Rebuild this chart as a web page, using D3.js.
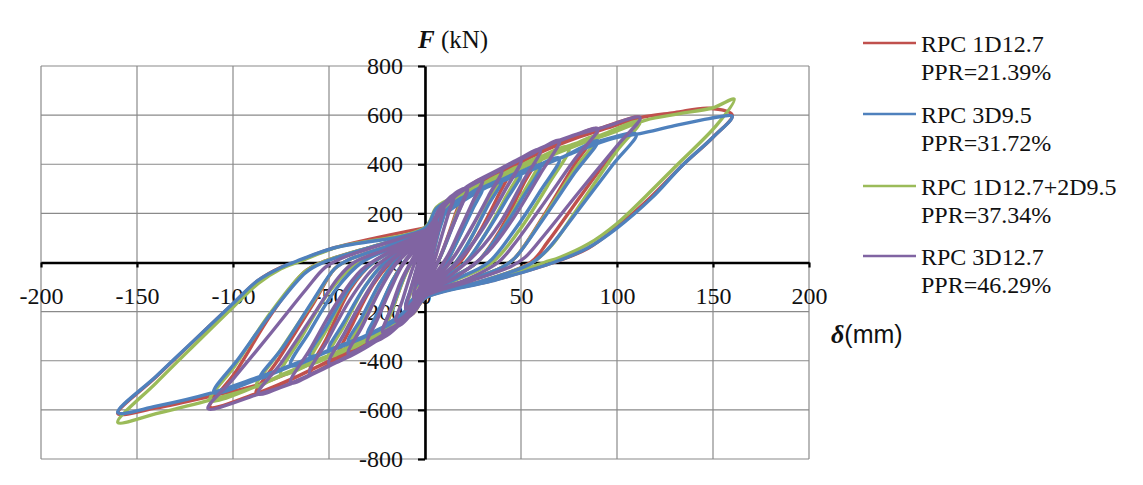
<!DOCTYPE html>
<html>
<head>
<meta charset="utf-8">
<script src="https://cdn.jsdelivr.net/npm/d3@7"></script>
<style>
  html, body { margin: 0; padding: 0; background: #fff; }
  svg { display: block; }
</style>
</head>
<body>
<svg id="chart" width="1143" height="485"></svg>
<script>
// ---------------- DATA ----------------
const seriesNames = ["RPC 1D12.7", "RPC 3D9.5", "RPC 1D12.7+2D9.5", "RPC 3D12.7"];
const seriesPPR = ["PPR=21.39%", "PPR=31.72%", "PPR=37.34%", "PPR=46.29%"];
const xTicks = [-200, -150, -100, -50, 0, 50, 100, 150, 200];
const yTicks = [-800, -600, -400, -200, 0, 200, 400, 600, 800];

// [displacement δ (mm), force F (kN)]
const redLoops = [
  [0,0],[2,55],[5,125],[3,60],[1.5,0],[0,-25],[-2,-60],[-5,-105],[-3,-45],[-1.5,0],[0,25],
  [2,90],[5,160],[10,220],[7,135],[4,35],[2,-20],[0,-55],[-2,-100],[-5,-145],[-10,-185],[-7,-105],[-4,-20],[-2,20],[0,55],
  [3,125],[7,190],[12,245],[20,295],[16,200],[10,65],[6,-10],[3,-50],[0,-80],[-3,-135],[-8,-190],[-14,-240],[-20,-270],[-16,-170],[-10,-45],[-6,15],[-3,50],[0,80],
  [3,132],[8,198],[15,262],[22,305],[30,340],[25,245],[17,95],[11,0],[5,-55],[0,-95],[-4,-158],[-10,-212],[-20,-275],[-30,-320],[-25,-220],[-17,-75],[-11,0],[-5,55],[0,95],
  [3,138],[9,205],[20,290],[32,345],[45,395],[38,270],[27,105],[18,0],[9,-60],[0,-108],[-4,-170],[-11,-225],[-24,-290],[-36,-345],[-45,-380],[-38,-255],[-27,-90],[-18,0],[-9,60],[0,103],
  [4,145],[10,212],[22,300],[40,375],[60,455],[51,315],[39,130],[27,0],[13,-65],[0,-118],[-5,-185],[-13,-240],[-28,-320],[-45,-395],[-60,-448],[-51,-305],[-39,-110],[-27,0],[-13,62],[0,112],
  [5,152],[12,220],[26,310],[50,415],[72,495],[90,544],[78,400],[61,180],[47,20],[40,-20],[20,-78],[0,-130],[-6,-195],[-15,-250],[-32,-330],[-55,-420],[-75,-495],[-88,-534],[-76,-390],[-58,-165],[-47,-25],[-40,10],[-20,65],[0,122],
  [5,158],[14,228],[30,320],[55,430],[75,500],[92,548],[112,590],[100,470],[81,270],[64,85],[55,0],[28,-80],[0,-137],[-6,-200],[-16,-252],[-34,-335],[-60,-440],[-88,-534],[-112,-588],[-99,-450],[-80,-210],[-63,-40],[-54,0],[-26,68],[0,128],
  [5,165],[15,235],[32,325],[58,440],[80,510],[98,555],[112,590],[130,610],[148,628],[160,600],[150,510],[134,395],[117,262],[100,145],[85,58],[67,0],[35,-74],[0,-145],[-6,-205],[-18,-255],[-40,-345],[-65,-430],[-88,-500],[-112,-545],[-140,-592],[-160,-615],[-140,-465],[-120,-316],[-100,-168],[-87,-74],[-75,-20],[-66,5],[-48,58],[0,141]
];

const blueLoops = [
  [0,0],[2,50],[5,110],[3,50],[1.5,0],[0,-25],[-2,-60],[-5,-100],[-3,-45],[-1.5,0],[0,25],
  [2,80],[5,140],[10,200],[7,120],[4,30],[2,-20],[0,-55],[-2,-95],[-5,-135],[-10,-175],[-7,-100],[-4,-20],[-2,20],[0,55],
  [3,115],[7,170],[12,220],[20,265],[16,180],[10,60],[6,-10],[3,-50],[0,-80],[-3,-130],[-8,-180],[-14,-220],[-20,-245],[-16,-160],[-10,-40],[-6,15],[-3,50],[0,80],
  [3,125],[8,180],[15,240],[22,275],[30,305],[25,220],[17,90],[11,0],[5,-55],[0,-95],[-4,-150],[-10,-200],[-20,-255],[-30,-295],[-25,-210],[-17,-75],[-11,0],[-5,55],[0,95],
  [3,130],[9,190],[20,265],[30,305],[40,335],[33,235],[24,100],[16,0],[8,-60],[0,-105],[-4,-160],[-11,-210],[-22,-265],[-40,-325],[-33,-225],[-24,-90],[-16,0],[-8,60],[0,100],
  [4,140],[10,200],[22,272],[36,322],[50,365],[42,250],[31,110],[21,0],[10,-62],[0,-110],[-5,-170],[-12,-218],[-25,-280],[-38,-320],[-50,-355],[-42,-240],[-31,-95],[-21,0],[-10,60],[0,105],
  [4,145],[11,205],[24,280],[42,340],[60,395],[51,265],[39,120],[27,0],[13,-65],[0,-118],[-5,-178],[-13,-225],[-28,-290],[-45,-340],[-60,-380],[-51,-255],[-39,-100],[-27,0],[-13,62],[0,112],
  [5,150],[12,210],[26,285],[48,355],[70,425],[60,290],[46,125],[33,0],[16,-68],[0,-123],[-6,-185],[-14,-230],[-30,-298],[-50,-360],[-70,-420],[-60,-280],[-46,-105],[-33,0],[-16,63],[0,117],
  [5,155],[13,215],[28,292],[52,368],[72,430],[90,495],[78,365],[61,170],[47,20],[40,-20],[20,-78],[0,-130],[-6,-190],[-15,-235],[-32,-305],[-55,-375],[-72,-425],[-86,-470],[-74,-345],[-58,-150],[-47,-25],[-40,10],[-20,65],[0,122],
  [5,160],[14,220],[30,300],[55,375],[75,440],[92,497],[110,522],[98,400],[80,215],[64,55],[55,-5],[28,-80],[0,-135],[-6,-195],[-16,-240],[-34,-312],[-60,-390],[-86,-472],[-110,-530],[-97,-390],[-78,-185],[-62,-40],[-53,0],[-26,68],[0,127],
  [5,165],[15,225],[32,305],[58,385],[80,455],[98,505],[112,525],[130,557],[148,586],[160,595],[150,510],[134,395],[118,262],[100,140],[85,60],[67,0],[35,-75],[0,-145],[-6,-200],[-18,-248],[-40,-330],[-65,-405],[-88,-470],[-112,-533],[-140,-585],[-160,-611],[-140,-463],[-120,-315],[-100,-167],[-87,-73],[-75,-20],[-67,5],[-48,58],[0,140],[6,220],[15,260]
];

const greenLoops = [
  [0,0],[2,55],[5,120],[3,55],[1.5,0],[0,-25],[-2,-60],[-5,-105],[-3,-45],[-1.5,0],[0,25],
  [2,85],[5,150],[10,210],[7,125],[4,30],[2,-20],[0,-55],[-2,-100],[-5,-145],[-10,-190],[-7,-110],[-4,-20],[-2,20],[0,55],
  [3,120],[7,178],[12,230],[20,280],[16,190],[10,60],[6,-10],[3,-50],[0,-80],[-3,-135],[-8,-190],[-14,-235],[-20,-265],[-16,-170],[-10,-45],[-6,15],[-3,50],[0,80],
  [3,128],[8,188],[15,250],[22,290],[30,320],[25,230],[17,90],[11,0],[5,-55],[0,-95],[-4,-155],[-10,-210],[-20,-268],[-30,-315],[-25,-220],[-17,-75],[-11,0],[-5,55],[0,95],
  [3,133],[9,196],[20,275],[30,320],[40,355],[33,245],[24,100],[16,0],[8,-60],[0,-105],[-4,-165],[-11,-220],[-22,-278],[-40,-350],[-33,-240],[-24,-90],[-16,0],[-8,60],[0,100],
  [4,142],[10,205],[22,283],[36,340],[50,390],[42,265],[31,110],[21,0],[10,-62],[0,-110],[-5,-175],[-12,-228],[-25,-292],[-38,-345],[-50,-380],[-42,-255],[-31,-95],[-21,0],[-10,60],[0,105],
  [4,148],[11,210],[24,290],[42,360],[60,425],[51,280],[39,120],[27,0],[13,-65],[0,-118],[-5,-183],[-13,-235],[-28,-305],[-45,-365],[-60,-410],[-51,-270],[-39,-100],[-27,0],[-13,62],[0,112],
  [5,152],[12,215],[26,297],[50,390],[75,470],[64,315],[49,130],[35,0],[17,-68],[0,-123],[-6,-190],[-14,-240],[-30,-315],[-52,-385],[-75,-455],[-64,-300],[-49,-110],[-35,0],[-17,63],[0,117],
  [5,157],[13,220],[28,303],[55,400],[75,472],[90,515],[78,380],[61,175],[47,20],[40,-20],[20,-78],[0,-130],[-6,-195],[-15,-243],[-32,-320],[-55,-395],[-75,-458],[-88,-505],[-76,-365],[-58,-155],[-47,-25],[-40,10],[-20,65],[0,122],
  [5,162],[14,225],[30,310],[55,405],[75,475],[92,520],[112,575],[100,455],[82,250],[66,70],[56,0],[28,-80],[0,-135],[-6,-200],[-16,-248],[-34,-325],[-60,-410],[-88,-505],[-112,-562],[-99,-420],[-80,-200],[-63,-40],[-54,0],[-26,68],[0,127],
  [5,168],[15,230],[32,315],[58,410],[80,480],[98,530],[115,580],[132,605],[150,630],[161,665],[152,560],[131,395],[115,270],[100,159],[85,75],[70,20],[62,0],[35,-72],[0,-142],[-6,-205],[-18,-255],[-40,-345],[-65,-425],[-88,-505],[-112,-560],[-140,-615],[-160,-651],[-140,-490],[-120,-335],[-100,-182],[-87,-86],[-75,-25],[-65,5],[-46,62],[0,143],[6,225],[15,265]
];

const purpleLoops = [
  [0,0],[1.5,55],[3,100],[2,50],[0.5,0],[0,-15],[-1.5,-50],[-3,-85],[-2,-40],[-0.5,0],[0,15],
  [2,75],[4,130],[6,170],[4.5,100],[2,15],[1,-20],[0,-40],[-2,-90],[-4,-120],[-6,-145],[-4.5,-80],[-2,-10],[-1,15],[0,35],
  [2,80],[4,135],[6,168],[4.3,95],[2,12],[0.8,-22],[0,-45],[-2,-95],[-4,-125],[-6,-140],[-4.3,-75],[-2,-8],[-1,18],[0,40],
  [2,90],[5,170],[7,210],[10,240],[8,170],[5,75],[3,10],[1,-35],[0,-55],[-2,-105],[-5,-150],[-7,-170],[-10,-190],[-8,-125],[-5,-45],[-3,5],[-1,40],[0,55],
  [2,95],[5,175],[7,212],[10,238],[7.8,160],[4.8,65],[3,5],[1,-38],[0,-60],[-2,-110],[-5,-155],[-7,-172],[-10,-188],[-7.8,-118],[-4.8,-38],[-3,8],[-1,42],[0,60],
  [2,100],[5,175],[10,240],[15,275],[12,195],[8,90],[5,15],[2,-40],[0,-70],[-3,-135],[-7,-185],[-11,-220],[-15,-235],[-12,-160],[-8,-60],[-5,5],[-2,50],[0,70],
  [2,105],[5,180],[10,242],[15,272],[11.8,188],[7.8,85],[5,10],[2,-45],[0,-75],[-3,-140],[-7,-190],[-11,-222],[-15,-238],[-11.8,-155],[-7.8,-55],[-5,8],[-2,55],[0,75],
  [3,120],[6,180],[12,250],[17,285],[22,305],[18,220],[12,105],[8,25],[4,-35],[0,-85],[-3,-150],[-7,-200],[-12,-245],[-17,-265],[-22,-280],[-18,-195],[-13,-85],[-8,-10],[-4,40],[0,85],
  [3,125],[6,185],[12,252],[17,287],[22,303],[17.8,212],[11.8,100],[7.8,20],[4,-40],[0,-90],[-3,-155],[-7,-205],[-12,-248],[-17,-268],[-22,-283],[-17.8,-190],[-12.8,-80],[-7.8,-5],[-4,45],[0,90],
  [3,128],[6,188],[12,254],[17,289],[22,301],[17.5,205],[11.5,95],[7.5,15],[4,-42],[0,-92],[-3,-158],[-7,-208],[-12,-250],[-17,-270],[-22,-285],[-17.5,-185],[-12.5,-75],[-7.5,0],[-4,48],[0,92],
  [3,130],[7,195],[13,258],[22,305],[30,340],[25,250],[18,130],[12,30],[6,-40],[0,-100],[-4,-165],[-9,-215],[-16,-265],[-23,-300],[-30,-325],[-25,-235],[-18,-110],[-12,-15],[-6,45],[0,100],
  [3,135],[7,198],[13,260],[22,308],[30,338],[24.8,245],[17.8,125],[11.8,25],[6,-45],[0,-105],[-4,-170],[-9,-220],[-16,-268],[-23,-302],[-30,-328],[-24.8,-230],[-17.8,-105],[-11.8,-10],[-6,50],[0,105],
  [3,135],[8,210],[15,270],[28,330],[40,378],[33,270],[24,140],[16,35],[8,-45],[0,-110],[-4,-175],[-10,-225],[-20,-295],[-30,-335],[-40,-370],[-33,-265],[-24,-120],[-16,-15],[-8,50],[0,110],
  [3,140],[8,212],[15,272],[28,332],[40,376],[32.8,265],[23.8,135],[15.8,30],[8,-50],[0,-115],[-4,-180],[-10,-228],[-20,-298],[-30,-337],[-40,-372],[-32.8,-260],[-23.8,-115],[-15.8,-10],[-8,55],[0,115],
  [4,150],[9,220],[20,295],[35,360],[50,420],[42,300],[31,150],[21,40],[10,-50],[0,-115],[-5,-185],[-12,-240],[-25,-315],[-38,-375],[-50,-410],[-42,-290],[-31,-135],[-21,-20],[-10,55],[0,115],
  [4,155],[9,225],[20,298],[35,362],[50,418],[41.8,295],[30.8,145],[20.8,35],[10,-55],[0,-118],[-5,-188],[-12,-243],[-25,-318],[-38,-377],[-50,-412],[-41.8,-285],[-30.8,-130],[-20.8,-15],[-10,58],[0,118],
  [4,155],[10,230],[22,305],[40,380],[60,460],[51,330],[39,160],[27,40],[13,-55],[0,-120],[-5,-190],[-13,-245],[-28,-330],[-45,-400],[-60,-450],[-51,-320],[-39,-150],[-27,-25],[-13,55],[0,120],
  [5,165],[10,235],[22,305],[40,380],[55,440],[70,497],[60,360],[46,180],[33,45],[16,-60],[0,-125],[-5,-195],[-14,-250],[-30,-340],[-50,-420],[-70,-490],[-60,-355],[-46,-165],[-33,-30],[-16,55],[0,125],
  [5,170],[11,240],[22,308],[40,382],[60,462],[75,510],[90,545],[78,420],[60,220],[46,70],[38,0],[20,-75],[0,-130],[-6,-200],[-15,-255],[-30,-340],[-50,-420],[-70,-492],[-87,-535],[-75,-410],[-57,-200],[-45,-60],[-37,0],[-18,60],[0,128],
  [5,175],[12,245],[22,310],[40,385],[60,465],[75,512],[92,548],[112,590],[100,475],[80,285],[62,110],[52,20],[45,-15],[22,-80],[0,-138],[-6,-205],[-15,-258],[-30,-342],[-50,-422],[-70,-494],[-87,-537],[-113,-595],[-100,-475],[-80,-285],[-62,-110],[-52,-20],[-44,15],[-22,75],[0,130]
];

const seriesData = [redLoops, blueLoops, greenLoops, purpleLoops];
const seriesColors = ["#C0504D", "#4F81BD", "#9BBB59", "#8064A2"];
// paint order of the curves (index into the series): green sits beneath blue
const drawOrder = [0, 2, 1, 3];

// ---------------- LAYOUT ----------------
const svg = d3.select("#chart");
const x = d3.scaleLinear().domain([-200, 200]).range([41, 809]);
const y = d3.scaleLinear().domain([-800, 800]).range([459, 66]);
const serif = "'Liberation Serif', 'Times New Roman', serif";

// grid
const grid = svg.append("g");
grid.selectAll("line.v").data(xTicks).enter().append("line")
  .attr("x1", d => x(d)).attr("x2", d => x(d))
  .attr("y1", y(800)).attr("y2", y(-800))
  .attr("stroke", "#8a8a8a").attr("stroke-width", 1.2);
grid.selectAll("line.h").data(yTicks).enter().append("line")
  .attr("x1", x(-200)).attr("x2", x(200))
  .attr("y1", d => y(d)).attr("y2", d => y(d))
  .attr("stroke", "#8a8a8a").attr("stroke-width", 1.2);

// axes
const xAxis = d3.axisBottom(x).tickValues(xTicks).tickSize(5).tickSizeOuter(0).tickPadding(19);
const yAxis = d3.axisLeft(y).tickValues(yTicks).tickSize(7).tickSizeOuter(0).tickPadding(15);

const gx = svg.append("g").attr("transform", `translate(0,${y(0)})`).call(xAxis);
const gy = svg.append("g").attr("transform", `translate(${x(0)},0)`).call(yAxis);
[gx, gy].forEach(g => {
  g.select(".domain").attr("stroke", "#000").attr("stroke-width", 2.6);
  g.selectAll(".tick line").attr("stroke", "#000").attr("stroke-width", 2.2);
  g.selectAll(".tick text").attr("font-family", serif).attr("font-size", 24).attr("fill", "#111")
    .text(d => d < 0 ? "-" + Math.abs(d) : String(d));
});

// curves
const line = d3.line().x(d => x(d[0])).y(d => y(d[1])).curve(d3.curveCatmullRom.alpha(0.5));
const plot = svg.append("g");
drawOrder.forEach(i => {
  plot.append("path").datum(seriesData[i])
    .attr("d", line)
    .attr("fill", "none")
    .attr("stroke", seriesColors[i])
    .attr("stroke-width", 3.4)
    .attr("stroke-linejoin", "round");
});

// axis titles
const fT = svg.append("text").attr("x", 418).attr("y", 48).attr("font-family", serif).attr("font-size", 25).attr("fill", "#111");
fT.append("tspan").attr("font-weight", "bold").attr("font-style", "italic").text("F");
fT.append("tspan").text(" (kN)");

const dT = svg.append("text").attr("x", 831).attr("y", 343).attr("fill", "#111");
dT.append("tspan").attr("font-family", serif).attr("font-size", 26).attr("font-weight", "bold").attr("font-style", "italic").text("δ");
dT.append("tspan").attr("font-family", "'Liberation Sans', Arial, sans-serif").attr("font-size", 25).text("(mm)");

// legend
const legend = svg.append("g");
const legendBase = [52, 123, 195, 265];
seriesNames.forEach((name, i) => {
  const g = legend.append("g");
  g.append("line").attr("x1", 863).attr("x2", 916)
    .attr("y1", legendBase[i] - 9).attr("y2", legendBase[i] - 9)
    .attr("stroke", seriesColors[i]).attr("stroke-width", 2.5);
  const t = g.append("text").attr("x", 921).attr("y", legendBase[i])
    .attr("font-family", serif).attr("font-size", 24).attr("fill", "#111");
  t.append("tspan").text(name);
  t.append("tspan").attr("x", 921).attr("dy", 28).text(seriesPPR[i]);
});
</script>
</body>
</html>
